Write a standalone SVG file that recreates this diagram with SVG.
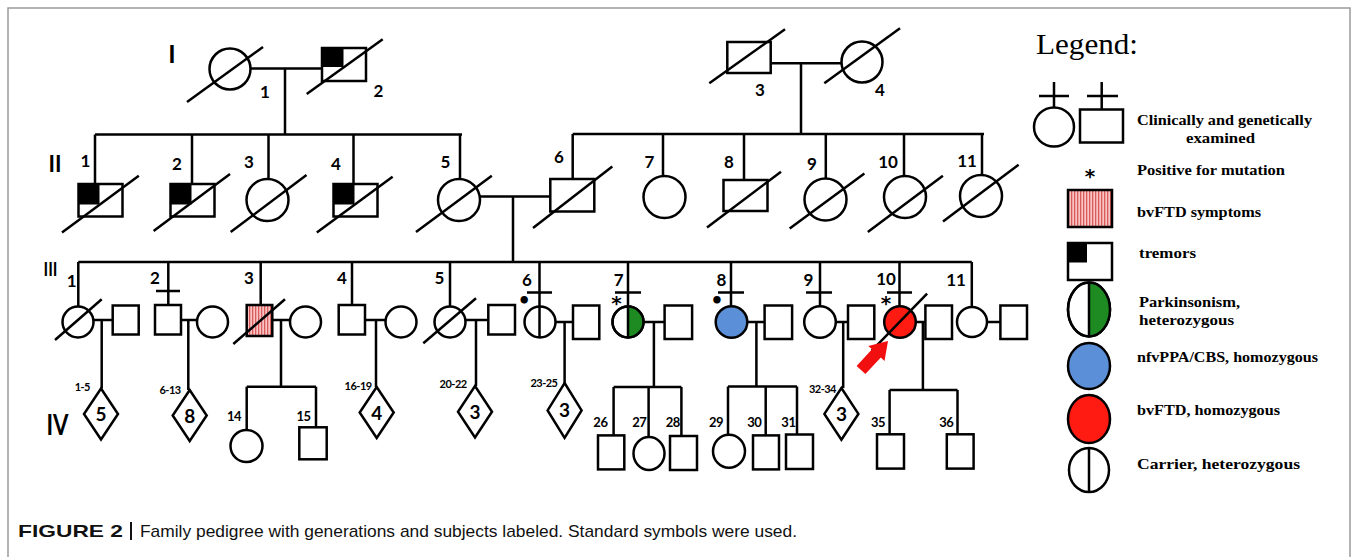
<svg xmlns="http://www.w3.org/2000/svg" width="1358" height="557" viewBox="0 0 1358 557">
<defs>
  <!-- vertical red hatching for bvFTD symptoms -->
  <pattern id="stripes" patternUnits="userSpaceOnUse" width="3" height="10">
    <rect width="3" height="10" fill="#f8c4c4"/>
    <rect width="1.3" height="10" fill="#d95b5b"/>
  </pattern>
</defs>
<style>
  .ln{stroke:#000;stroke-width:2.5;fill:none}
  .sym{stroke:#000;stroke-width:2.5;fill:#fff}
  .sl{stroke:#000;stroke-width:2.5}
  .n{font-family:Lato,'Liberation Sans',sans-serif;font-weight:700;font-size:17px;text-anchor:middle;fill:#000}
  .s{font-size:11px;letter-spacing:-0.5px;text-anchor:end}
  .c{font-size:13px;letter-spacing:-0.5px}
  .d{font-size:19px}
  .ast{font-family:'DejaVu Sans',sans-serif;font-weight:700;font-size:20px;text-anchor:middle;fill:#000}
  .gen{font-family:Lato,'Liberation Sans',sans-serif;font-weight:700;text-anchor:middle;fill:#000}
  .lg{font-family:'Liberation Serif',serif;font-weight:700;font-size:14px;fill:#000}
  .cap{font-family:'Liberation Sans',Arial,sans-serif;font-size:17px;fill:#111}
</style>

<rect x="8" y="8" width="1342" height="600" fill="none" stroke="#9a9a9a" stroke-width="1.5"/>

<!-- generation numerals -->
<g id="generations">
  <text class="gen" x="172" y="63" font-size="25">I</text>
  <text class="gen" x="55" y="172" font-size="22">II</text>
  <text class="gen" x="50.5" y="276" font-size="19" textLength="14" lengthAdjust="spacingAndGlyphs">III</text>
  <text class="gen" x="57.5" y="435" font-size="28" textLength="22" lengthAdjust="spacingAndGlyphs">IV</text>
</g>

<!-- lines of descent, marriages and sibships -->
<g id="connectors" class="ln">
  <path d="M250,68.5H322M285,68.5V134.5M95,134.5H462"/>
  <path d="M95,134.5V184M192,134.5V184M268.5,134.5V179M353.5,134.5V184M460,134.5V179"/>
  <path d="M770.7,63.3H841M801,63.3V134M572.7,134H984"/>
  <path d="M572.7,134V179M663,134V176M744,134V180M825.8,134V178.5M904,134V176M982,134V175"/>
  <path d="M480,196.4H550.3M513,196.4V262"/>
  <path d="M78.3,262H971.8"/>
  <path d="M78.3,262V306.5M168.3,262V305M260.7,262V305M352,262V305M450,262V306.5M539.5,262V306.5M628,262V306.5M731,262V306.5M820,262V306.5M899.5,262V306.5M971.8,262V306.5"/>
  <!-- examined markers -->
  <path d="M156,291H180M527,292.5H552M615,292.5H641M718,292.5H744M806,292.5H832M887,292.5H912"/>
  <!-- couples of generation III -->
  <path d="M93.5,320H112.7M101.7,320V388.5"/>
  <path d="M181,320H197M188.3,320V390"/>
  <path d="M272.3,320H290M281,320V386.7"/>
  <path d="M365,320H385.5M376,320V387"/>
  <path d="M465.5,320H488.3M476,320V386"/>
  <path d="M555.5,322H573M564.6,322V383"/>
  <path d="M643,322H664.6M653.9,322V387"/>
  <path d="M747.5,322H764.6M756.4,322V386.4"/>
  <path d="M835.5,322H848M843.2,322V388"/>
  <path d="M915.5,322H925.4M922.9,322V390"/>
  <path d="M987.5,322H1000.4"/>
  <!-- sibships of generation IV -->
  <path d="M246.7,386.7H316M246.7,386.7V430M316,386.7V427.3"/>
  <path d="M613.6,387H681.4M613.6,387V435.4M648.6,387V437M681.4,387V436"/>
  <path d="M728,386.4H797M728,386.4V435M765.7,386.4V435.4M797,386.4V435.4"/>
  <path d="M889.6,390H957.5M889.6,390V434.3M957.5,390V434.3"/>
</g>

<!-- generation I -->
<g id="I-1"><circle class="sym" cx="230" cy="69" r="20.5"/><line class="sl" x1="187" y1="102" x2="263" y2="47"/><text class="n" x="265" y="97.5">1</text></g>
<g id="I-2"><rect class="sym" x="322" y="48" width="44" height="33"/><rect x="322" y="48" width="21.5" height="19"/><line class="sl" x1="306.7" y1="94" x2="382.7" y2="39.3"/><text class="n" x="378.5" y="97">2</text></g>
<g id="I-3"><rect class="sym" x="727.3" y="42" width="43.4" height="31"/><line class="sl" x1="709.3" y1="83.3" x2="785" y2="29.3"/><text class="n" x="760" y="96">3</text></g>
<g id="I-4"><circle class="sym" cx="862" cy="62" r="20.5"/><line class="sl" x1="824.3" y1="83.3" x2="900" y2="28.3"/><text class="n" x="880" y="96">4</text></g>

<!-- generation II -->
<g id="II-1"><rect class="sym" x="78.5" y="184" width="44" height="32.5"/><rect x="78.5" y="184" width="21" height="20.5"/><line class="sl" x1="62" y1="232.6" x2="138.8" y2="175.8"/><text class="n" x="85.5" y="166.5">1</text></g>
<g id="II-2"><rect class="sym" x="170.5" y="184" width="44" height="32.5"/><rect x="170.5" y="184" width="21" height="20.5"/><line class="sl" x1="153.6" y1="230.9" x2="230" y2="174"/><text class="n" x="177" y="170">2</text></g>
<g id="II-3"><circle class="sym" cx="267.5" cy="200" r="21"/><line class="sl" x1="230.7" y1="231.9" x2="306.5" y2="175.1"/><text class="n" x="249" y="168">3</text></g>
<g id="II-4"><rect class="sym" x="333.5" y="184" width="44" height="32.5"/><rect x="333.5" y="184" width="21" height="20.5"/><line class="sl" x1="316.8" y1="232.6" x2="392.6" y2="176.8"/><text class="n" x="336" y="170">4</text></g>
<g id="II-5"><circle class="sym" cx="459" cy="200" r="21"/><line class="sl" x1="416" y1="232" x2="491.8" y2="175.8"/><text class="n" x="445.5" y="168">5</text></g>
<g id="II-6"><rect class="sym" x="550.3" y="179" width="44" height="32.5"/><line class="sl" x1="533" y1="228" x2="612.3" y2="166.5"/><text class="n" x="559" y="163">6</text></g>
<g id="II-7"><circle class="sym" cx="664.5" cy="197" r="21"/><text class="n" x="649.5" y="168">7</text></g>
<g id="II-8"><rect class="sym" x="723.5" y="180" width="44" height="31"/><line class="sl" x1="707" y1="227.4" x2="781" y2="171.7"/><text class="n" x="729" y="168">8</text></g>
<g id="II-9"><circle class="sym" cx="825.5" cy="199.5" r="21"/><line class="sl" x1="789.7" y1="228.5" x2="864.4" y2="173.4"/><text class="n" x="812" y="170">9</text></g>
<g id="II-10"><circle class="sym" cx="905" cy="197" r="21"/><line class="sl" x1="867.8" y1="231.9" x2="942.9" y2="175.8"/><text class="n" x="888" y="167.5">10</text></g>
<g id="II-11"><circle class="sym" cx="981" cy="196" r="21"/><line class="sl" x1="943" y1="221.6" x2="1018.6" y2="164.8"/><text class="n" x="967" y="166.5">11</text></g>

<!-- generation III -->
<g id="III-1"><circle class="sym" cx="78" cy="322" r="15.5"/><line class="sl" x1="55" y1="340" x2="101.7" y2="299.3"/><text class="n" x="71.7" y="287">1</text></g>
<g id="III-1-spouse"><rect class="sym" x="112.7" y="305.5" width="26" height="29"/></g>
<g id="III-2"><rect class="sym" x="155" y="305" width="26" height="29.5"/><text class="n" x="155" y="284">2</text></g>
<g id="III-2-spouse"><circle class="sym" cx="212.5" cy="322" r="15.5"/></g>
<g id="III-3"><rect x="246.7" y="305" width="25.6" height="31" fill="url(#stripes)" stroke="#000" stroke-width="2.5"/><line class="sl" x1="233.3" y1="344" x2="285" y2="299.3"/><text class="n" x="249" y="284">3</text></g>
<g id="III-3-spouse"><circle class="sym" cx="305.5" cy="322" r="15.5"/></g>
<g id="III-4"><rect class="sym" x="338.7" y="305" width="26.3" height="29.5"/><text class="n" x="342" y="284">4</text></g>
<g id="III-4-spouse"><circle class="sym" cx="401" cy="322" r="15.5"/></g>
<g id="III-5"><circle class="sym" cx="450" cy="322" r="15.5"/><line class="sl" x1="423.3" y1="343.3" x2="476" y2="298.3"/><text class="n" x="439.5" y="284">5</text></g>
<g id="III-5-spouse"><rect class="sym" x="488.3" y="305" width="26.7" height="29.5"/></g>
<g id="III-6"><circle class="sym" cx="540" cy="322" r="15.5"/><line class="sl" x1="539.5" y1="306.5" x2="539.5" y2="337.5"/><text class="n" x="524.3" y="305" font-size="14">•</text><text class="n" x="527" y="286">6</text></g>
<g id="III-6-spouse"><rect class="sym" x="573" y="305.5" width="26.3" height="33.5"/></g>
<g id="III-7"><circle class="sym" cx="628" cy="322" r="15.5"/><path d="M628,306.5A15.5,15.5 0 0 1 628,337.5Z" fill="#1e8a22"/><circle cx="628" cy="322" r="15.5" fill="none" stroke="#000" stroke-width="2.5"/><line class="sl" x1="628" y1="306.5" x2="628" y2="337.5"/><text class="n" x="618.6" y="285.7">7</text><text class="ast" x="616.4" y="310">*</text></g>
<g id="III-7-spouse"><rect class="sym" x="664.6" y="305.5" width="27.5" height="33.5"/></g>
<g id="III-8"><circle cx="731.5" cy="322" r="15.8" fill="#5b8fd8" stroke="#000" stroke-width="2.5"/><text class="n" x="721.4" y="285.7">8</text><text class="n" x="717" y="305" font-size="14">•</text></g>
<g id="III-8-spouse"><rect class="sym" x="764.6" y="305.5" width="27.5" height="33.5"/></g>
<g id="III-9"><circle class="sym" cx="820" cy="322" r="15.8"/><text class="n" x="808.4" y="285.7">9</text></g>
<g id="III-9-spouse"><rect class="sym" x="848" y="305.5" width="26.3" height="33.5"/></g>
<g id="III-10"><circle cx="900" cy="322" r="15.8" fill="#ff1a12" stroke="#000" stroke-width="2.5"/><line class="sl" x1="871.8" y1="350.7" x2="927.1" y2="293.6"/><text class="n" x="886" y="284.6">10</text><text class="ast" x="886" y="310">*</text>
  <!-- proband arrow -->
  <polygon points="888,341 884.5,360.9 880.8,357.5 865.4,374.1 856.6,365.9 872,349.3 868.3,345.9" fill="#f20f0f"/></g>
<g id="III-10-spouse"><rect class="sym" x="925.4" y="305.5" width="26.6" height="33.5"/></g>
<g id="III-11"><circle class="sym" cx="972" cy="322" r="15"/><text class="n" x="956" y="285.7">11</text></g>
<g id="III-11-spouse"><rect class="sym" x="1000.4" y="305.5" width="26.6" height="33.5"/></g>

<!-- generation IV -->
<g id="IV-1-5"><polygon class="sym" points="101,388.5 118,414 101,439.5 84,414"/><text class="n d" x="101" y="421">5</text><text class="n s" x="90" y="391">1-5</text></g>
<g id="IV-6-13"><polygon class="sym" points="189.7,390 206.7,415.5 189.7,441 172.7,415.5"/><text class="n d" x="189.7" y="422.5">8</text><text class="n s" x="180.7" y="394">6-13</text></g>
<g id="IV-14"><circle class="sym" cx="246.5" cy="446" r="16"/><text class="n c" x="234" y="420.7">14</text></g>
<g id="IV-15"><rect class="sym" x="299.3" y="427.3" width="27.4" height="32"/><text class="n c" x="303.5" y="420.7">15</text></g>
<g id="IV-16-19"><polygon class="sym" points="376.7,387 393.7,412.5 376.7,438 359.7,412.5"/><text class="n d" x="376.7" y="419.5">4</text><text class="n s" x="371.7" y="390">16-19</text></g>
<g id="IV-20-22"><polygon class="sym" points="475,386 492,411.7 475,437.4 458,411.7"/><text class="n d" x="475" y="418.7">3</text><text class="n s" x="466.7" y="388">20-22</text></g>
<g id="IV-23-25"><polygon class="sym" points="564.6,383 581.6,410.4 564.6,437.8 547.6,410.4"/><text class="n d" x="564.6" y="417.4">3</text><text class="n s" x="557.5" y="387">23-25</text></g>
<g id="IV-26"><rect class="sym" x="598" y="435.4" width="26.3" height="34"/><text class="n c" x="600.4" y="427">26</text></g>
<g id="IV-27"><ellipse class="sym" cx="649" cy="453.5" rx="15.5" ry="16.5"/><text class="n c" x="639.3" y="427">27</text></g>
<g id="IV-28"><rect class="sym" x="670" y="436" width="27" height="34"/><text class="n c" x="672.7" y="427">28</text></g>
<g id="IV-29"><ellipse class="sym" cx="729" cy="451.2" rx="16" ry="16.5"/><text class="n c" x="716" y="427">29</text></g>
<g id="IV-30"><rect class="sym" x="753" y="435.4" width="26" height="34"/><text class="n c" x="754.3" y="427">30</text></g>
<g id="IV-31"><rect class="sym" x="786" y="434.5" width="27" height="34.5"/><text class="n c" x="788.4" y="427">31</text></g>
<g id="IV-32-34"><polygon class="sym" points="841.4,388 858.4,413.9 841.4,439.8 824.4,413.9"/><text class="n d" x="841.4" y="420.9">3</text><text class="n s" x="836" y="392.5">32-34</text></g>
<g id="IV-35"><rect class="sym" x="877" y="434.3" width="27" height="34.3"/><text class="n c" x="878" y="427">35</text></g>
<g id="IV-36"><rect class="sym" x="946.8" y="434.3" width="26.8" height="34.3"/><text class="n c" x="946.3" y="427">36</text></g>

<!-- legend -->
<g id="legend">
  <text x="1036" y="54" font-family="'Liberation Serif',serif" font-size="30" fill="#000" textLength="102" lengthAdjust="spacingAndGlyphs">Legend:</text>
  <g id="legend-examined">
    <ellipse class="sym" cx="1054" cy="127" rx="20" ry="19.5"/>
    <path class="ln" d="M1054,82V107.5M1039,96H1069"/>
    <rect class="sym" x="1080" y="109.5" width="43" height="33"/>
    <path class="ln" d="M1101.7,82V109.5M1087,96H1118"/>
    <text class="lg" x="1137" y="125" textLength="175" lengthAdjust="spacingAndGlyphs">Clinically and genetically</text>
    <text class="lg" x="1186" y="143" textLength="69" lengthAdjust="spacingAndGlyphs">examined</text>
  </g>
  <g id="legend-positive">
    <text class="ast" x="1090" y="183" font-size="22">*</text>
    <text class="lg" x="1137" y="175" textLength="148" lengthAdjust="spacingAndGlyphs">Positive for mutation</text>
  </g>
  <g id="legend-bvftd-symptoms">
    <rect x="1068" y="190" width="44" height="37" fill="url(#stripes)" stroke="#000" stroke-width="2.5"/>
    <text class="lg" x="1137" y="217" textLength="124" lengthAdjust="spacingAndGlyphs">bvFTD symptoms</text>
  </g>
  <g id="legend-tremors">
    <rect class="sym" x="1068" y="243" width="44" height="37"/>
    <rect x="1068" y="243" width="19" height="19.5"/>
    <text class="lg" x="1139" y="258" textLength="57" lengthAdjust="spacingAndGlyphs">tremors</text>
  </g>
  <g id="legend-parkinsonism">
    <ellipse class="sym" cx="1089" cy="309.5" rx="21" ry="27"/>
    <path d="M1089,282.5A21,27 0 0 1 1089,336.5Z" fill="#1e8a22"/>
    <ellipse cx="1089" cy="309.5" rx="21" ry="27" fill="none" stroke="#000" stroke-width="2.5"/>
    <line class="sl" x1="1089" y1="282.5" x2="1089" y2="336.5"/>
    <text class="lg" x="1139" y="307" textLength="101" lengthAdjust="spacingAndGlyphs">Parkinsonism,</text>
    <text class="lg" x="1139" y="325" textLength="95" lengthAdjust="spacingAndGlyphs">heterozygous</text>
  </g>
  <g id="legend-nfvppa">
    <ellipse cx="1089" cy="366" rx="21" ry="23" fill="#5b8fd8" stroke="#000" stroke-width="2.5"/>
    <text class="lg" x="1137" y="362" textLength="181" lengthAdjust="spacingAndGlyphs">nfvPPA/CBS, homozygous</text>
  </g>
  <g id="legend-bvftd">
    <ellipse cx="1089" cy="419" rx="21" ry="24" fill="#ff1a12" stroke="#000" stroke-width="2.5"/>
    <text class="lg" x="1137" y="415" textLength="143" lengthAdjust="spacingAndGlyphs">bvFTD, homozygous</text>
  </g>
  <g id="legend-carrier">
    <ellipse class="sym" cx="1089" cy="470" rx="20" ry="22"/>
    <line class="sl" x1="1089" y1="448" x2="1089" y2="492"/>
    <text class="lg" x="1137" y="469" textLength="163" lengthAdjust="spacingAndGlyphs">Carrier, heterozygous</text>
  </g>
</g>

<!-- caption -->
<g id="caption">
  <text class="cap" x="18" y="537" font-weight="700" textLength="105" lengthAdjust="spacingAndGlyphs">FIGURE 2</text>
  <rect x="130" y="522" width="2" height="18" fill="#111"/>
  <text class="cap" x="140" y="537" textLength="657" lengthAdjust="spacingAndGlyphs">Family pedigree with generations and subjects labeled. Standard symbols were used.</text>
</g>
</svg>
